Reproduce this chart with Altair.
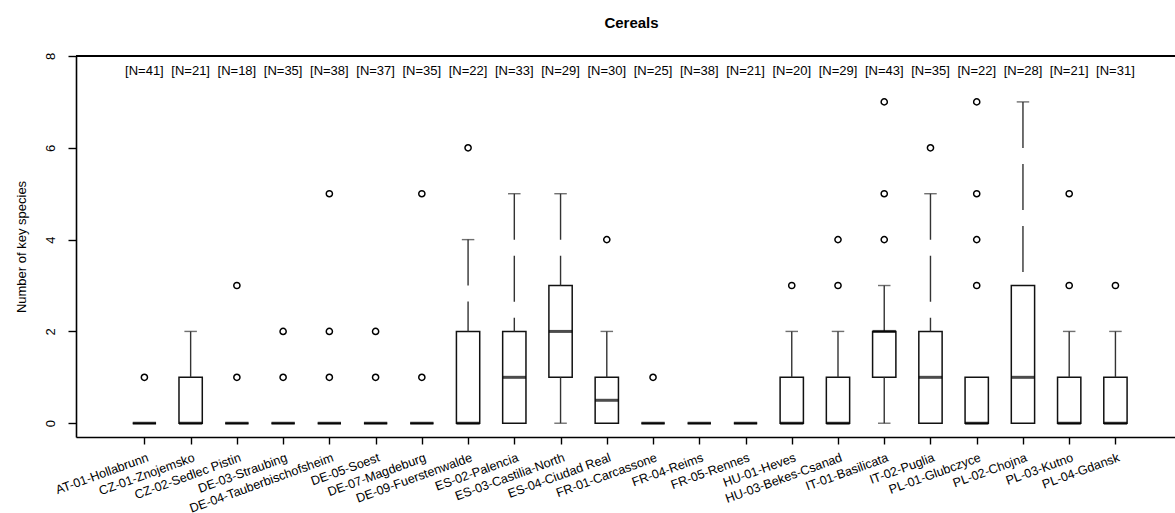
import json
import altair as alt
import pandas as pd

categories = ["AT-01-Hollabrunn", "CZ-01-Znojemsko", "CZ-02-Sedlec Pistin", "DE-03-Straubing",
              "DE-04-Tauberbischofsheim", "DE-05-Soest", "DE-07-Magdeburg", "DE-09-Fuerstenwalde",
              "ES-02-Palencia", "ES-03-Castilia-North", "ES-04-Ciudad Real", "FR-01-Carcassone",
              "FR-04-Reims", "FR-05-Rennes", "HU-01-Heves", "HU-03-Bekes-Csanad", "IT-01-Basilicata",
              "IT-02-Puglia", "PL-01-Glubczyce", "PL-02-Chojna", "PL-03-Kutno", "PL-04-Gdansk"]
n_obs = [41, 21, 18, 35, 38, 37, 35, 22, 33, 29, 30, 25, 38, 21, 20, 29, 43, 35, 22, 28, 21, 31]
lower = [0, 0, 0, 0, 0, 0, 0, 0, 0, 0, 0, 0, 0, 0, 0, 0, 0, 0, 0, 0, 0, 0]
q1 = [0, 0, 0, 0, 0, 0, 0, 0, 0, 1, 0, 0, 0, 0, 0, 0, 1, 0, 0, 0, 0, 0]
median = [0, 0, 0, 0, 0, 0, 0, 0, 1, 2, 0.5, 0, 0, 0, 0, 0, 2, 1, 0, 1, 0, 0]
q3 = [0, 1, 0, 0, 0, 0, 0, 2, 2, 3, 1, 0, 0, 0, 1, 1, 2, 2, 1, 3, 1, 1]
upper = [0, 2, 0, 0, 0, 0, 0, 4, 5, 5, 2, 0, 0, 0, 2, 2, 3, 5, 1, 7, 2, 2]

outlier_cat = [0, 2, 2, 3, 3, 4, 4, 4, 5, 5, 6, 6, 7, 10, 11, 14, 15, 15, 16, 16, 16, 17, 18, 18, 18, 18, 20, 20, 21]
outlier_val = [1, 1, 3, 1, 2, 1, 2, 5, 1, 2, 1, 5, 6, 4, 1, 3, 3, 4, 4, 5, 7, 6, 3, 4, 5, 7, 3, 5, 3]

FONT = "Liberation Sans"

box = pd.DataFrame({
    "i": list(range(len(categories))), "cat": categories, "n": n_obs,
    "lower": lower, "q1": q1, "median": median, "q3": q3, "upper": upper,
})
box["nlab"] = ["[N=%d]" % v for v in n_obs]
out = pd.DataFrame({"i": outlier_cat, "v": outlier_val})

xscale = alt.Scale(domain=[-1.371, 22.18], nice=False, zero=False)
yscale = alt.Scale(domain=[-0.3, 8], nice=False, zero=False)

label_expr = json.dumps(categories) + "[datum.value]"

x_axis = alt.Axis(values=list(range(len(categories))), labelExpr=label_expr, title=None,
                  grid=False, labelAngle=340, labelAlign="right", labelBaseline="top",
                  labelPadding=7, labelOffset=1, labelFontSize=12.6, labelFont=FONT,
                  labelColor="black", labelOverlap=False, labelBound=False, labelFlush=False,
                  tickSize=7, tickColor="black", tickWidth=1.4,
                  domainColor="black", domainWidth=1.6)
y_axis = alt.Axis(values=[0, 2, 4, 6, 8], title="Number of key species", grid=False,
                  labelAngle=270, labelAlign="center", labelBaseline="alphabetic",
                  labelPadding=14, labelFontSize=13, labelFont=FONT, labelColor="black",
                  labelOverlap=False, labelBound=False, labelFlush=False,
                  tickSize=8, tickColor="black", tickWidth=1.4,
                  domainColor="black", domainWidth=1.6,
                  titleFont=FONT, titleFontSize=13, titleFontWeight="normal", titleColor="black",
                  titleAngle=270, titleAlign="center", titleBaseline="alphabetic",
                  titleX=-51, titleY=190.5)

base = alt.Chart(box)

boxes = base.mark_bar(size=23.3, fill="white", stroke="#111111", strokeWidth=1.5,
                      orient="vertical").encode(
    x=alt.X("i:Q", scale=xscale, axis=x_axis),
    y=alt.Y("q1:Q", scale=yscale, axis=y_axis),
    y2="q3:Q",
)

up_whisk = base.transform_filter("datum.upper > datum.q3").mark_rule(
    color="#333333", strokeWidth=1.4, strokeDash=[46, 16]).encode(
    x=alt.X("i:Q", scale=xscale), y=alt.Y("upper:Q", scale=yscale), y2="q3:Q")
lo_whisk = base.transform_filter("datum.lower < datum.q1").mark_rule(
    color="#333333", strokeWidth=1.4, strokeDash=[46, 16]).encode(
    x=alt.X("i:Q", scale=xscale), y=alt.Y("q1:Q", scale=yscale), y2="lower:Q")

up_staple = base.transform_filter("datum.upper > datum.q3").mark_tick(
    orient="horizontal", size=12.5, thickness=1.4, color="#333333").encode(
    x=alt.X("i:Q", scale=xscale), y=alt.Y("upper:Q", scale=yscale))
lo_staple = base.transform_filter("datum.lower < datum.q1").mark_tick(
    orient="horizontal", size=12.5, thickness=1.4, color="#333333").encode(
    x=alt.X("i:Q", scale=xscale), y=alt.Y("lower:Q", scale=yscale))

medians = base.mark_tick(orient="horizontal", size=23.3, thickness=3, color="black").encode(
    x=alt.X("i:Q", scale=xscale), y=alt.Y("median:Q", scale=yscale))

outliers = alt.Chart(out).mark_point(shape="circle", filled=False, size=38, strokeWidth=1.5,
                                     color="black", opacity=1).encode(
    x=alt.X("i:Q", scale=xscale), y=alt.Y("v:Q", scale=yscale))

nlabels = base.mark_text(fontSize=13, font=FONT, color="black", baseline="middle",
                         align="center").encode(
    x=alt.X("i:Q", scale=xscale), y=alt.datum(7.68, scale=yscale), text="nlab:N")

top_line = alt.Chart(box).mark_rule(color="black", strokeWidth=1.6).encode(
    y=alt.datum(8, scale=yscale))

chart = alt.layer(boxes, up_whisk, lo_whisk, up_staple, lo_staple, medians, outliers,
                  nlabels, top_line).properties(
    width=1099, height=381,
    title=alt.TitleParams("Cereals", font=FONT, fontSize=15, fontWeight="bold", color="black",
                          anchor="middle", baseline="alphabetic", offset=9, dx=6),
    autosize=alt.AutoSizeParams(type="none"),
    padding={"left": 76, "top": 56, "right": 0, "bottom": 76},
).configure_view(stroke=None).configure(font=FONT, background="white")

chart.save("out.html", embed_options={"renderer": "svg", "actions": False})
